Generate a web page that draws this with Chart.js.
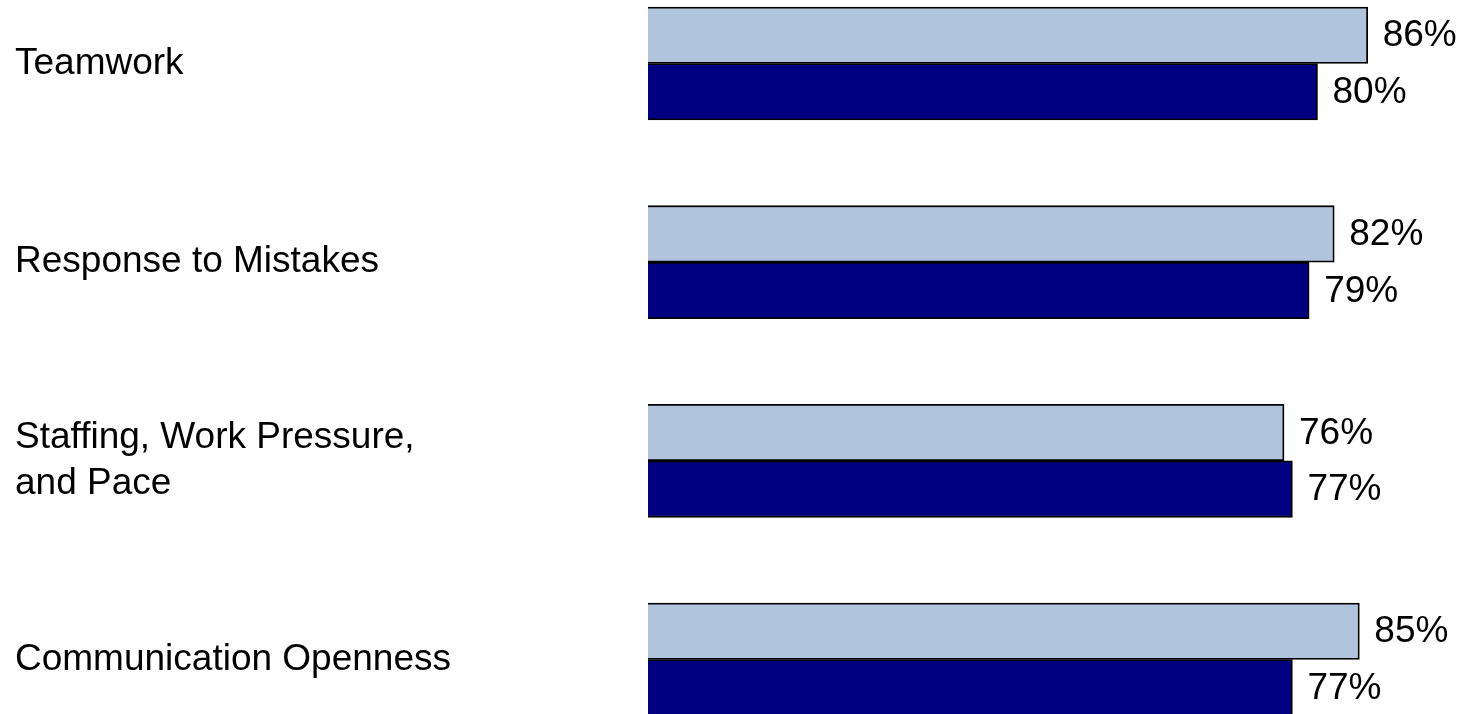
<!DOCTYPE html>
<html>
<head>
<meta charset="utf-8">
<script src="https://cdn.jsdelivr.net/npm/chart.js@4"></script>
<style>
  html, body { margin: 0; padding: 0; background: #fff; }
  #wrap { width: 1474px; height: 714px; }
</style>
</head>
<body>
<div id="wrap"><canvas id="c" width="1474" height="714"></canvas></div>
<script>
const categories = [
  'Teamwork',
  'Response to Mistakes',
  ['Staffing, Work Pressure,', 'and Pace'],
  'Communication Openness'
];
const seriesA = [86, 82, 76, 85];   // light bars
const seriesB = [80, 79, 77, 77];   // dark bars
const seriesNames = ['Series A', 'Series B'];

const FONT = '"Liberation Sans", Arial, sans-serif';

const valueLabels = {
  id: 'valueLabels',
  afterDatasetsDraw(chart) {
    const ctx = chart.ctx;
    ctx.save();
    ctx.font = '37px ' + FONT;
    ctx.fillStyle = '#000';
    ctx.textAlign = 'left';
    ctx.textBaseline = 'middle';
    chart.data.datasets.forEach((ds, di) => {
      const meta = chart.getDatasetMeta(di);
      meta.data.forEach((el, i) => {
        ctx.fillText(ds.data[i] + '%', el.x + 15, el.y + 1);
      });
    });
    ctx.restore();
  }
};

new Chart(document.getElementById('c'), {
  type: 'bar',
  data: {
    labels: categories,
    datasets: [
      {
        label: seriesNames[0],
        data: seriesA,
        backgroundColor: '#B0C4DE',
        borderColor: '#000000',
        borderWidth: 1.8,
        barThickness: 56.5,
        clip: false
      },
      {
        label: seriesNames[1],
        data: seriesB,
        backgroundColor: '#000080',
        borderColor: '#000000',
        borderWidth: 1.8,
        barThickness: 56.5,
        clip: false
      }
    ]
  },
  options: {
    indexAxis: 'y',
    responsive: false,
    animation: false,
    devicePixelRatio: 1,
    layout: { padding: { left: 15, top: 63.5, bottom: 54.5, right: 0 } },
    plugins: {
      legend: { display: false },
      tooltip: { enabled: false }
    },
    scales: {
      x: {
        display: false,
        min: 0,
        max: 98.7
      },
      y: {
        offset: false,
        grid: { display: false },
        border: { display: false },
        ticks: {
          crossAlign: 'far',
          color: '#000',
          padding: 0,
          font: { family: FONT, size: 37, lineHeight: 1.22 }
        },
        afterFit(axis) { axis.width = 633; }
      }
    }
  },
  plugins: [valueLabels]
});
</script>
</body>
</html>
